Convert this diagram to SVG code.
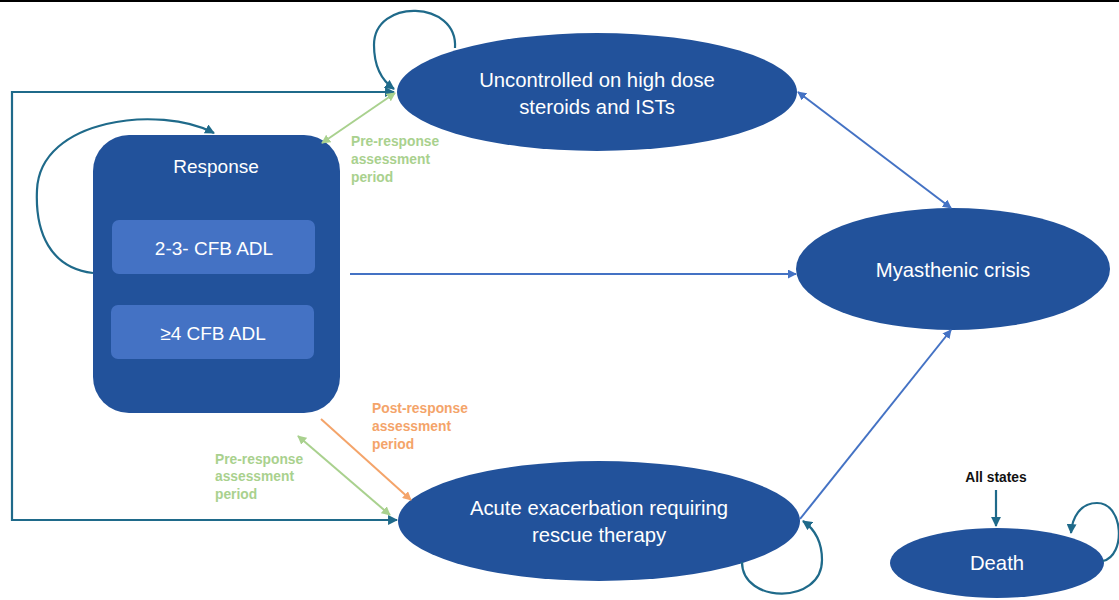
<svg xmlns="http://www.w3.org/2000/svg" width="1119" height="600" viewBox="0 0 1119 600">
<style>
.node{fill:#22529B}
.inner{fill:#4472C4}
.nt{font-family:"Liberation Sans",Arial,sans-serif;font-size:19px;fill:#FFFFFF;text-anchor:middle;dominant-baseline:central}
.et{font-size:20.3px}
.lbl{font-family:"Liberation Sans",Arial,sans-serif;font-size:13.8px;font-weight:bold}
.green{fill:#A9D18E}
.orange{fill:#F4A46A}
.teal{fill:none;stroke:#1F6A8A;stroke-width:2.2}
.blue{fill:none;stroke:#4472C4;stroke-width:2}
.gr{fill:none;stroke:#A9D18E;stroke-width:2}
.or{fill:none;stroke:#F4A46A;stroke-width:2}
</style>
<defs>
<marker id="mTeal" viewBox="0 0 10 10" refX="9" refY="5" markerWidth="4.5" markerHeight="4.5" orient="auto-start-reverse"><path d="M0,0 L10,5 L0,10 z" fill="#1F6A8A"/></marker>
<marker id="mBlue" viewBox="0 0 10 10" refX="9" refY="5" markerWidth="4.5" markerHeight="4.5" orient="auto-start-reverse"><path d="M0,0 L10,5 L0,10 z" fill="#4472C4"/></marker>
<marker id="mGreen" viewBox="0 0 10 10" refX="9" refY="5" markerWidth="4.5" markerHeight="4.5" orient="auto-start-reverse"><path d="M0,0 L10,5 L0,10 z" fill="#A9D18E"/></marker>
<marker id="mOrange" viewBox="0 0 10 10" refX="9" refY="5" markerWidth="4.5" markerHeight="4.5" orient="auto-start-reverse"><path d="M0,0 L10,5 L0,10 z" fill="#F4A46A"/></marker>
</defs>
<rect width="1119" height="600" fill="#FFFFFF"/>
<line x1="0" y1="1" x2="1119" y2="1" stroke="#000000" stroke-width="2"/>

<g id="node-response">
<rect class="node" x="93" y="135" width="247" height="278" rx="36" ry="36"/>
<text class="nt" x="216" y="166">Response</text>
<rect class="inner" x="112" y="220" width="203" height="54" rx="7" ry="7"/>
<text class="nt" x="214" y="248">2-3- CFB ADL</text>
<rect class="inner" x="111" y="305" width="203" height="54" rx="7" ry="7"/>
<text class="nt" x="213" y="333">≥4 CFB ADL</text>
</g>
<g id="node-uncontrolled">
<ellipse class="node" cx="597" cy="92" rx="200" ry="59"/>
<text class="nt et" x="597" y="80">Uncontrolled on high dose</text>
<text class="nt et" x="597" y="107">steroids and ISTs</text>
</g>
<g id="node-crisis">
<ellipse class="node" cx="953" cy="269" rx="157" ry="61"/>
<text class="nt et" x="953" y="270">Myasthenic crisis</text>
</g>
<g id="node-acute">
<ellipse class="node" cx="599" cy="521" rx="201" ry="60"/>
<text class="nt et" x="599" y="508">Acute exacerbation requiring</text>
<text class="nt et" x="599" y="535">rescue therapy</text>
</g>
<g id="node-death">
<ellipse class="node" cx="997" cy="563" rx="107" ry="35"/>
<text class="nt et" x="997" y="563">Death</text>
</g>

<g id="connectors">
<path class="teal" d="M394,92 L12,92 L12,520 L397,520" marker-start="url(#mTeal)" marker-end="url(#mTeal)"/>
<path class="teal" d="M455,48 C458,0 374,-2 374,45 C374,70 384,82 394,89" marker-end="url(#mTeal)"/>
<path class="teal" d="M93,273 C50,268 35,232 37,190 C40,118 160,105 214,133" marker-end="url(#mTeal)"/>
<path class="teal" d="M742,562 C742,604 822,605 822,560 C822,540 813,528 803,521" marker-end="url(#mTeal)"/>
<path class="teal" d="M1103,561 C1126,556 1124,503 1097,503 C1080,503 1072,518 1071,533" marker-end="url(#mTeal)"/>
<path class="teal" d="M996,490 L996,526" marker-end="url(#mTeal)"/>
<path class="blue" d="M798,92 L951,208" marker-start="url(#mBlue)" marker-end="url(#mBlue)"/>
<path class="blue" d="M350,274 L796,274" marker-end="url(#mBlue)"/>
<path class="blue" d="M800,519 L951,330" marker-end="url(#mBlue)"/>
<path class="gr" d="M322,143 L395,93" marker-start="url(#mGreen)" marker-end="url(#mGreen)"/>
<path class="gr" d="M298,436 L390,515" marker-start="url(#mGreen)" marker-end="url(#mGreen)"/>
<path class="or" d="M321,419 L411,500" marker-end="url(#mOrange)"/>
</g>

<g id="labels">
<text class="lbl green" x="351" y="146">Pre-response</text>
<text class="lbl green" x="351" y="164">assessment</text>
<text class="lbl green" x="351" y="182">period</text>
<text class="lbl orange" x="372" y="413">Post-response</text>
<text class="lbl orange" x="372" y="431">assessment</text>
<text class="lbl orange" x="372" y="449">period</text>
<text class="lbl green" x="215" y="464">Pre-response</text>
<text class="lbl green" x="215" y="481">assessment</text>
<text class="lbl green" x="215" y="499">period</text>
<text class="lbl" x="996" y="482" text-anchor="middle" fill="#111111">All states</text>
</g>
</svg>
